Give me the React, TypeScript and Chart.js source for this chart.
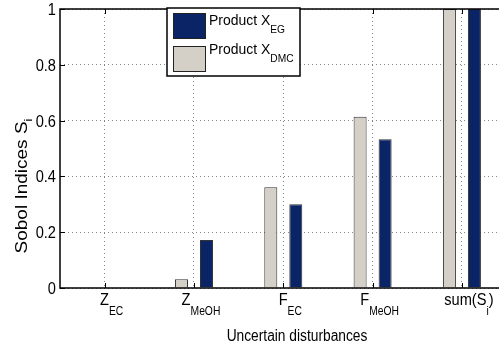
import React, { useEffect, useRef } from 'react';
import { Chart, registerables } from 'chart.js';

Chart.register(...registerables);

// ---- data ----
const categories = ['Z_{EC}', 'Z_{MeOH}', 'F_{EC}', 'F_{MeOH}', 'sum(S_{i})'];
const dmcValues = [0.003, 0.031, 0.361, 0.614, 1.0];
const egValues = [0.002, 0.172, 0.3, 0.533, 1.0];
const seriesNames = ['Product X_{DMC}', 'Product X_{EG}'];
const seriesColors = ['#d4d0c8', '#0b2466'];
const yTickValues = [0, 0.2, 0.4, 0.6, 0.8, 1];
const xTitle = 'Uncertain disturbances';
const yTitle = 'Sobol Indices S_{i}';

const FONT = '"Liberation Sans", Arial, Helvetica, sans-serif';

type Part = { t: string; sub: boolean };
function parse(s: string): Part[] {
  const parts: Part[] = [];
  const re = /_\{([^}]*)\}/g;
  let last = 0;
  let m: RegExpExecArray | null;
  while ((m = re.exec(s))) {
    if (m.index > last) parts.push({ t: s.slice(last, m.index), sub: false });
    parts.push({ t: m[1], sub: true });
    last = re.lastIndex;
  }
  if (last < s.length) parts.push({ t: s.slice(last), sub: false });
  return parts;
}

function richWidth(ctx: CanvasRenderingContext2D, parts: Part[], size: number, subSize: number, sx: number) {
  let w = 0;
  for (const p of parts) {
    ctx.font = `${p.sub ? subSize : size}px ${FONT}`;
    w += ctx.measureText(p.t).width * sx;
  }
  return w;
}

function drawRich(
  ctx: CanvasRenderingContext2D,
  parts: Part[],
  x: number,
  y: number,
  size: number,
  subSize: number,
  subDy: number,
  sx: number,
  sy: number = 1
) {
  let cx = x;
  ctx.textAlign = 'left';
  ctx.textBaseline = 'alphabetic';
  for (const p of parts) {
    ctx.font = `${p.sub ? subSize : size}px ${FONT}`;
    const w = ctx.measureText(p.t).width * sx;
    ctx.save();
    ctx.translate(cx, y + (p.sub ? subDy : 0));
    ctx.scale(sx, sy);
    ctx.fillText(p.t, 0, 0);
    ctx.restore();
    cx += w;
  }
}

const decorPlugin = {
  id: 'decor',
  afterDatasetsDraw(chart: any) {
    const ctx: CanvasRenderingContext2D = chart.ctx;
    const { left, right, top, bottom } = chart.chartArea;
    const xs = chart.scales.x;
    const ys = chart.scales.y;
    ctx.save();
    ctx.strokeStyle = '#000';
    ctx.fillStyle = '#000';
    // inward tick marks
    ctx.lineWidth = 1;
    categories.forEach((_, i) => {
      const px = Math.round(xs.getPixelForValue(i + 1)) + 0.5;
      ctx.beginPath();
      ctx.moveTo(px, bottom);
      ctx.lineTo(px, bottom - 5);
      ctx.moveTo(px, top);
      ctx.lineTo(px, top + 5);
      ctx.stroke();
    });
    yTickValues.forEach((v) => {
      const py = Math.round(ys.getPixelForValue(v)) + 0.5;
      ctx.beginPath();
      ctx.moveTo(left, py);
      ctx.lineTo(left + 5, py);
      ctx.stroke();
    });
    // axes box
    ctx.lineWidth = 1.5;
    ctx.beginPath();
    ctx.moveTo(right + 2, top);
    ctx.lineTo(left, top);
    ctx.lineTo(left, bottom);
    ctx.lineTo(right + 2, bottom);
    ctx.stroke();

    // y tick labels
    const sx = 0.86;
    yTickValues.forEach((v) => {
      const py = ys.getPixelForValue(v);
      const label = String(v);
      ctx.font = `17px ${FONT}`;
      const w = ctx.measureText(label).width * sx;
      drawRich(ctx, [{ t: label, sub: false }], left - 4 - w, py + 6, 17, 12, 0, sx);
    });
    // x tick labels
    categories.forEach((c, i) => {
      const px = xs.getPixelForValue(i + 1);
      const parts = parse(c);
      const w = richWidth(ctx, parts, 17, 12, sx);
      drawRich(ctx, parts, px + 7 - w / 2, bottom + 17, 17, 12, 10, sx);
    });
    // x title
    {
      const parts = parse(xTitle);
      const w = richWidth(ctx, parts, 16, 11, sx);
      drawRich(ctx, parts, 297 - w / 2, 341, 16, 11, 0, sx);
    }
    // y title (rotated)
    {
      const parts = parse(yTitle);
      const w = richWidth(ctx, parts, 19, 13, 1);
      ctx.save();
      ctx.translate(27, 186);
      ctx.rotate(-Math.PI / 2);
      drawRich(ctx, parts, -w / 2, 0, 19, 13, 5, 1, 0.86);
      ctx.restore();
    }
    // legend (reverse order)
    const lx = 167, ly = 8, lw = 133, lh = 68;
    ctx.fillStyle = '#fff';
    ctx.fillRect(lx, ly, lw, lh);
    ctx.lineWidth = 1.5;
    ctx.strokeStyle = '#000';
    ctx.strokeRect(lx, ly, lw, lh);
    const order = [1, 0];
    order.forEach((di, k) => {
      const sy = 13 + k * 33;
      ctx.fillStyle = seriesColors[di];
      ctx.fillRect(173, sy, 32, 25);
      ctx.lineWidth = 1;
      ctx.strokeStyle = '#222';
      ctx.strokeRect(173.5, sy + 0.5, 32, 25);
      ctx.fillStyle = '#000';
      drawRich(ctx, parse(seriesNames[di]), 209, 25 + k * 29, 15, 11, 8, 0.93);
    });
    ctx.restore();
  },
};

export default function App() {
  const ref = useRef<HTMLCanvasElement | null>(null);
  useEffect(() => {
    if (!ref.current) return;
    document.body.style.margin = '0';
    const chart = new Chart(ref.current, {
      type: 'bar',
      data: {
        datasets: [
          {
            label: seriesNames[0],
            data: dmcValues.map((v, i) => ({ x: i + 1, y: v })),
            backgroundColor: seriesColors[0],
            borderColor: '#333',
            borderWidth: 1,
            categoryPercentage: 0.56,
            barPercentage: 0.52,
          },
          {
            label: seriesNames[1],
            data: egValues.map((v, i) => ({ x: i + 1, y: v })),
            backgroundColor: seriesColors[1],
            borderColor: '#333',
            borderWidth: 1,
            categoryPercentage: 0.56,
            barPercentage: 0.52,
          },
        ],
      },
      options: {
        animation: false,
        responsive: false,
        maintainAspectRatio: false,
        layout: { padding: { top: 9, right: 0, left: 0, bottom: 0 } },
        plugins: { legend: { display: false }, tooltip: { enabled: false } },
        scales: {
          x: {
            type: 'linear',
            offset: false,
            min: 0.5,
            max: 5.415,
            afterBuildTicks: (s: any) => {
              s.ticks = categories.map((_, i) => ({ value: i + 1 }));
            },
            afterFit: (s: any) => {
              s.height = 64;
            },
            ticks: { display: false },
            grid: { color: '#888', lineWidth: 1, drawTicks: false, offset: false },
            border: { display: false, dash: [1, 3] },
          },
          y: {
            min: 0,
            max: 1,
            afterBuildTicks: (s: any) => {
              s.ticks = yTickValues.map((v) => ({ value: v }));
            },
            afterFit: (s: any) => {
              s.width = 60;
            },
            ticks: { display: false },
            grid: { color: '#888', lineWidth: 1, drawTicks: false },
            border: { display: false, dash: [1, 3] },
          },
        },
      },
      plugins: [decorPlugin],
    } as any);
    return () => chart.destroy();
  }, []);
  return (
    <div style={{ position: 'absolute', left: 0, top: 0, width: 499, height: 352, background: '#fff' }}>
      <canvas ref={ref} width={499} height={352} style={{ width: 499, height: 352, display: 'block' }} />
    </div>
  );
}
